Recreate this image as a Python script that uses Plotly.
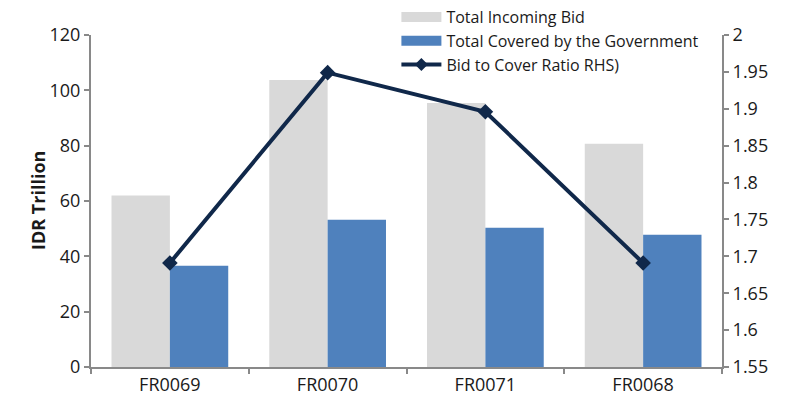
import plotly.graph_objects as go

categories = ["FR0069", "FR0070", "FR0071", "FR0068"]
incoming_bid = [62.0, 103.7, 95.4, 80.7]
covered_gov = [36.6, 53.2, 50.3, 47.8]
bid_to_cover = [1.691, 1.949, 1.896, 1.691]

left_ticks = [0, 20, 40, 60, 80, 100, 120]
right_ticks = [1.55, 1.6, 1.65, 1.7, 1.75, 1.8, 1.85, 1.9, 1.95, 2.0]
right_labels = ["1.55", "1.6", "1.65", "1.7", "1.75", "1.8", "1.85", "1.9", "1.95", "2"]

GRAY = "#D9D9D9"
BLUE = "#4F81BD"
NAVY = "#10284A"
AXIS = "#898989"
FONT = "Open Sans"

fig = go.Figure()
fig.add_trace(go.Bar(x=categories, y=incoming_bid, name="Total Incoming Bid",
                     marker=dict(color=GRAY, line=dict(width=0)), showlegend=False))
fig.add_trace(go.Bar(x=categories, y=covered_gov, name="Total Covered by the Government",
                     marker=dict(color=BLUE, line=dict(width=0)), showlegend=False))
fig.add_trace(go.Scatter(x=categories, y=bid_to_cover, name="Bid to Cover Ratio RHS)",
                         mode="lines+markers", yaxis="y2",
                         line=dict(color=NAVY, width=4),
                         marker=dict(symbol="diamond", size=12, color=NAVY),
                         showlegend=False))

# legend proxies (wide swatches like the original)
fig.add_trace(go.Scatter(x=[None], y=[None], mode="lines", name="Total Incoming Bid",
                         line=dict(color=GRAY, width=10)))
fig.add_trace(go.Scatter(x=[None], y=[None], mode="lines", name="Total Covered by the Government",
                         line=dict(color=BLUE, width=10)))
fig.add_trace(go.Scatter(x=[None], y=[None], mode="lines+markers", name="Bid to Cover Ratio RHS)",
                         line=dict(color=NAVY, width=4),
                         marker=dict(symbol="diamond", size=10, color=NAVY)))

fig.update_layout(
    width=785, height=398,
    margin=dict(l=91, r=63, t=35, b=31, pad=0, autoexpand=False),
    paper_bgcolor="white", plot_bgcolor="white",
    font=dict(family=FONT, size=18, color="#1a1a1a"),
    barmode="group", bargap=0.26, bargroupgap=0,
    showlegend=True,
    legend=dict(x=0.484, xref="paper", xanchor="left", y=1.0, yref="container", yanchor="top",
                font=dict(size=16, family=FONT), bgcolor="rgba(0,0,0,0)",
                itemwidth=40, tracegroupgap=0),
    xaxis=dict(type="category", showline=True, linecolor=AXIS, linewidth=2,
               ticks="outside", ticklen=5, tickcolor=AXIS, tickwidth=1.5,
               tickson="boundaries", showgrid=False, zeroline=False,
               range=[-0.5, 3.5]),
    yaxis=dict(range=[0, 120], tickvals=left_ticks, showline=True, linecolor=AXIS, linewidth=2,
               ticks="outside", ticklen=5, tickcolor=AXIS, tickwidth=1.5,
               showgrid=False, zeroline=False),
    yaxis2=dict(range=[1.55, 2.0], tickvals=right_ticks, ticktext=right_labels,
                overlaying="y", side="right", showline=True, linecolor=AXIS, linewidth=2,
                ticks="outside", ticklen=5, tickcolor=AXIS, tickwidth=1.5,
                showgrid=False, zeroline=False),
)

fig.add_annotation(text="<b>IDR Trillion</b>", textangle=-90, xref="paper", yref="paper",
                   x=0, y=0.5, xshift=-67, showarrow=False,
                   font=dict(size=18, family=FONT, color="#1a1a1a"))

fig.write_html("out.html")
